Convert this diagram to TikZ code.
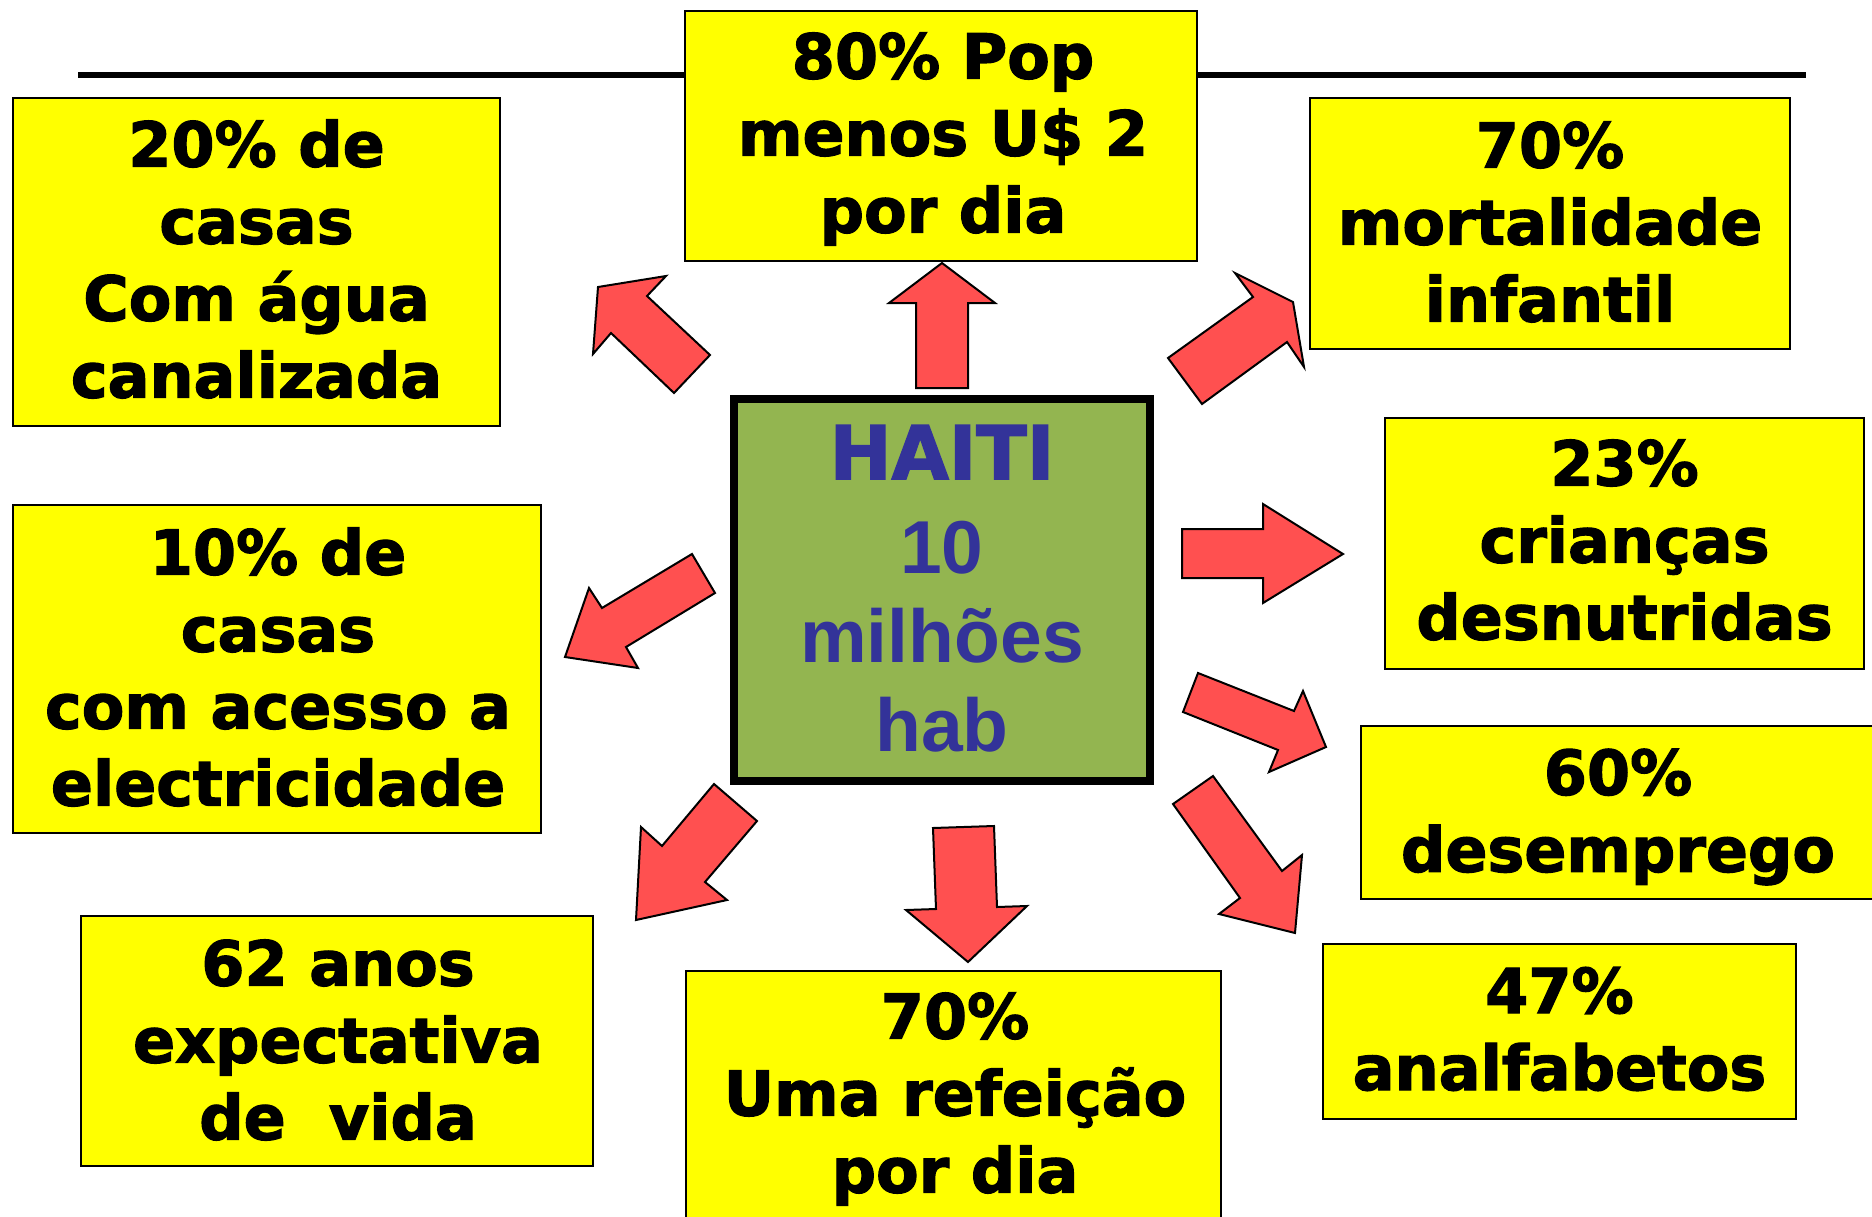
\documentclass[tikz,border=0pt]{standalone}
\usepackage{fontspec}
\setmainfont{DejaVu Sans}
\newfontfamily\blackfont{DejaVu Sans}[BoldFeatures={FakeBold=2}]
\newfontfamily\arialfont{Liberation Sans}
\definecolor{boxyellow}{HTML}{FFFF00}
\definecolor{arrowred}{HTML}{FF5050}
\definecolor{haitigreen}{HTML}{93B550}
\definecolor{haitinavy}{HTML}{333399}
\tikzset{
  factbox/.style={draw=black, line width=2pt, fill=boxyellow, inner sep=0pt},
  facttext/.style={align=center, inner sep=0pt,
    font=\blackfont\bfseries\fontsize{62}{77}\selectfont},
  blockarrow/.style={draw=black, line width=2pt, fill=arrowred, line join=miter},
  centerbox/.style={draw=black, line width=8pt, fill=haitigreen, inner sep=0pt},
  centertext/.style={font=\arialfont\bfseries\fontsize{75}{75}\selectfont, text=haitinavy, anchor=base}
}
\begin{document}
\begin{tikzpicture}[x=1pt,y=-1pt]
\fill[white] (0,0) rectangle (1872,1216);
\clip (0,0) rectangle (1872,1216);
% top rule
\draw[line width=6pt] (78,75) -- (1806,75);
% fact boxes
\node[factbox, minimum width=512pt, minimum height=250pt] (pop) at (941,136) {};
\node[facttext] (poptxt) at (943,139) {80\% Pop\\menos U\$ 2\\por dia};
\node[factbox, minimum width=487pt, minimum height=328pt] (agua) at (256.5,262) {};
\node[facttext] (aguatxt) at (256.5,259) {20\% de\\casas\\Com água\\canalizada};
\node[factbox, minimum width=480pt, minimum height=251pt] (mort) at (1550,223.5) {};
\node[facttext] (morttxt) at (1550,222) {70\%\\mortalidade\\infantil};
\node[factbox, minimum width=479pt, minimum height=251pt] (desn) at (1624.5,543) {};
\node[facttext] (desntxt) at (1624.5,540) {23\%\\crianças\\desnutridas};
\node[factbox, minimum width=528pt, minimum height=328pt] (elec) at (277,669) {};
\node[facttext] (electxt) at (278,667) {10\% de\\casas\\com acesso a\\electricidade};
\node[factbox, minimum width=515pt, minimum height=173pt] (desem) at (1618,812.5) {};
\node[facttext] (desemtxt) at (1618,817) {60\%\\desemprego};
\node[factbox, minimum width=512pt, minimum height=250pt] (vida) at (337,1041) {};
\node[facttext] (vidatxt) at (338,1040) {62 anos\\expectativa\\de\ \ vida};
\node[factbox, minimum width=535pt, minimum height=250pt] (refe) at (953.5,1096) {};
\node[facttext] (refetxt) at (955,1099) {70\%\\Uma refeição\\por dia};
\node[factbox, minimum width=473pt, minimum height=175pt] (analf) at (1559.5,1031.5) {};
\node[facttext] (analftxt) at (1559.5,1029) {47\%\\analfabetos};
% center box
\node[centerbox, minimum width=416pt, minimum height=382pt] (haiti) at (942,590) {};
\node[font=\blackfont\bfseries\fontsize{74}{74}\selectfont, text=haitinavy, anchor=base] (haititxt) at (942,479) {HAITI};
\node[centertext] (dez) at (942,573) {10};
\node[centertext] (milh) at (942,662) {milhões};
\node[centertext] (hab) at (942,751) {hab};
% arrows
% up-left
\draw[blockarrow] (598,287) -- (666,276) -- (647,296) -- (710,355) -- (674,393) -- (611,333) -- (593,354) -- cycle;
% up
\draw[blockarrow] (942,263) -- (995,303) -- (968,303) -- (968,388) -- (916,388) -- (916,303) -- (889,303) -- cycle;
% up-right
\draw[blockarrow] (1304,367) -- (1287,342) -- (1202,404) -- (1168,358) -- (1253,297) -- (1235,273) -- (1293,302) -- cycle;
% right
\draw[blockarrow] (1343,554) -- (1263,603) -- (1263,578) -- (1182,578) -- (1182,529) -- (1263,529) -- (1263,504) -- cycle;
% right-down
\draw[blockarrow] (1326,747) -- (1269,772) -- (1278,750) -- (1183,712) -- (1198,673) -- (1294,711) -- (1303,691) -- cycle;
% down-right
\draw[blockarrow] (1295,933) -- (1219,914) -- (1240,898) -- (1173,804) -- (1213,776) -- (1282,871) -- (1302,855) -- cycle;
% down
\draw[blockarrow] (968,962) -- (906,910) -- (936,909) -- (933,828) -- (994,826) -- (997,907) -- (1027,906) -- cycle;
% down-left lower
\draw[blockarrow] (636,920) -- (641,827) -- (662,846) -- (714,784) -- (757,821) -- (705,882) -- (727,900) -- cycle;
% left-down
\draw[blockarrow] (565,657) -- (589,588) -- (602,608) -- (692,554) -- (715,593) -- (626,647) -- (638,668) -- cycle;
\end{tikzpicture}
\end{document}
